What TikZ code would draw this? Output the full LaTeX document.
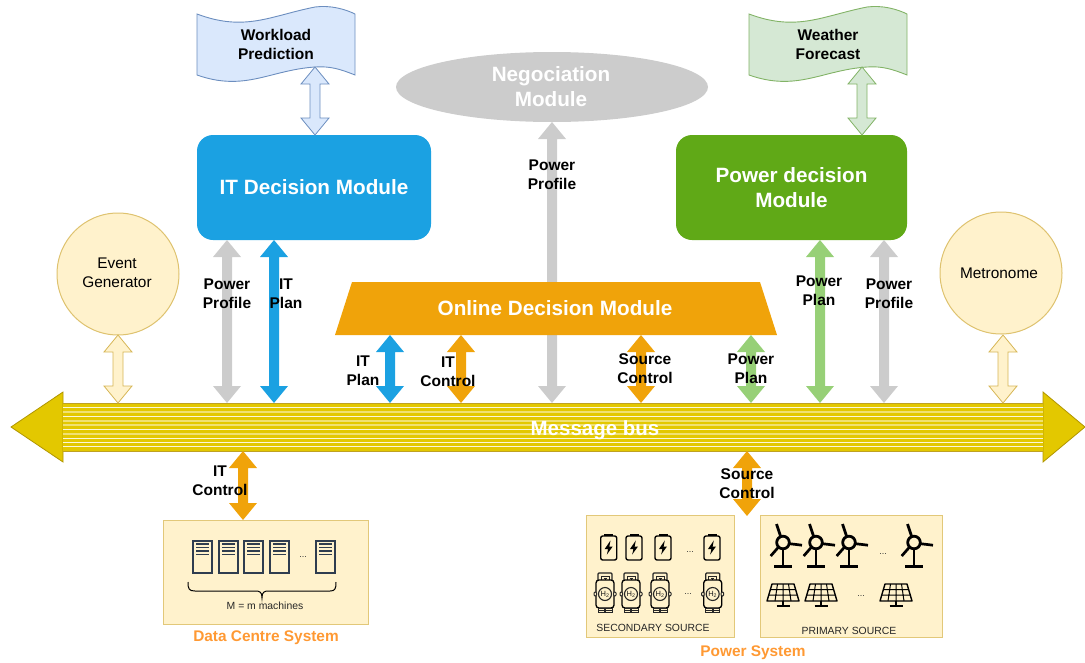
\documentclass[tikz,border=0pt]{standalone}
\usepackage{fontspec}
\setmainfont{Liberation Sans}
\usetikzlibrary{calc,shapes.geometric}
\definecolor{itblue}{HTML}{1BA1E2}
\definecolor{pgreen}{HTML}{60A917}
\definecolor{amber}{HTML}{F0A30A}
\definecolor{lgray}{HTML}{CCCCCC}
\definecolor{lgreen}{HTML}{97D077}
\definecolor{cream}{HTML}{FFF2CC}
\definecolor{creamline}{HTML}{D6B656}
\definecolor{busy}{HTML}{E3C800}
\definecolor{busline}{HTML}{B09500}
\definecolor{sysorange}{HTML}{FF9933}
\definecolor{slate}{HTML}{2F3D4F}
\definecolor{docblue}{HTML}{DAE8FC}
\definecolor{docblueline}{HTML}{6C8EBF}
\definecolor{docgreen}{HTML}{D5E8D4}
\definecolor{docgreenline}{HTML}{82B366}
\tikzset{
  x=1pt,y=-1pt,
  lab/.style={font=\fontsize{15.5}{19}\selectfont\bfseries,align=center,inner sep=0pt,text=black},
  grayarr/.style={fill=lgray,draw=none},
  bluearr/.style={fill=itblue,draw=none},
  orangearr/.style={fill=amber,draw=none},
  greenarr/.style={fill=lgreen,draw=none},
  creamarr/.style={fill=cream,draw=creamline,line width=.8pt},
  dbluearr/.style={fill=docblue,draw=docblueline,line width=.8pt},
  dgreenarr/.style={fill=docgreen,draw=docgreenline,line width=.8pt},
  module/.style={rounded corners=16pt,text=white,font=\fontsize{20.7}{25}\selectfont\bfseries,align=center,inner sep=0pt},
  sysbox/.style={fill=cream,draw=creamline!70!cream,line width=1pt},
  systitle/.style={text=sysorange,font=\fontsize{15.4}{18}\selectfont\bfseries,inner sep=0pt},
  small/.style={inner sep=0pt,text=black!85},
  dots/.style={inner sep=0pt,text=black!80,font=\fontsize{9}{10}\selectfont},
  icon/.style={draw=black,line width=1.4pt,line join=round},
}
% double block arrow between two named points, upper one first
\newcommand\blockarrow[3]{%
  \draw[#3,line join=miter] (#1) -- ++(14,17) -- ++(-9,0) -- ($(#2)+(5,-17)$) -- ++(9,0) -- (#2)
    -- ++(-14,-17) -- ++(9,0) -- ($(#1)+(-5,17)$) -- ++(-9,0) -- cycle;}
\newcommand\serverico[1]{%
  \begin{scope}[shift={(#1,541)}]
    \draw[draw=slate,line width=1.2pt] (0,0) rectangle (19,32);
    \foreach \yy in {3,6.5,10,13.5} \draw[slate,line width=1.2pt] (3,\yy) -- (16,\yy);
  \end{scope}}
\newcommand\batico[1]{%
  \begin{scope}[shift={(#1,547)}]
    \fill[black] (-4.5,-13.5) rectangle (4.5,-11);
    \draw[icon,rounded corners=2pt] (-8,-11) rectangle (8,13);
    \fill[black] (1.8,-6.5) -- (-4,2) -- (-.6,2) -- (-1.8,7.5) -- (4,-.5) -- (.6,-.5) -- cycle;
  \end{scope}}
\newcommand\hydro[1]{%
  \begin{scope}[shift={(#1,594)}]
    \draw[black!85,line width=1.3pt,rounded corners=1pt] (-7,-14) -- (-7,-21) -- (7,-21) -- (7,-14);
    \draw[black!85,line width=1pt] (-4,-14) -- (-4,-17.5) -- (4,-17.5) -- (4,-14);
    \draw[black!85,line width=1pt] (-1.5,-16) -- (1.5,-16) (0,-16) -- (0,-14);
    \draw[icon,line width=1.3pt,fill=cream,rounded corners=3pt] (-9,-14) rectangle (9,14);
    \draw[black!85,line width=1pt,fill=cream,rounded corners=1pt] (-11,-2) rectangle (-8.5,2) (8.5,-2) rectangle (11,2);
    \draw[black!85,line width=1.1pt,fill=cream] (0,0) circle (6.5);
    \node[inner sep=0pt,text=black!90] at (0,0.1) {\fontsize{7.5}{8}\selectfont H\textsubscript{2}};
    \draw[black!85,line width=1pt] (-7,14.5) rectangle (-.7,18) (.7,14.5) rectangle (7,18);
    \draw[black!85,line width=.8pt] (-7,16.2) -- (7,16.2);
  \end{scope}}
\newcommand\turbine[1]{%
  \begin{scope}[shift={(#1,542.5)}]
    \draw[black,line width=2.7pt] (-2,-5) -- (-6.5,-18.5) (5,1) -- (19,2.7) (-4,4) -- (-12.3,13.5);
    \draw[black,line width=2.7pt] (0,6) -- (0,24);
    \draw[black,line width=2.8pt] (-8.8,24) -- (8.8,24);
    \draw[black,line width=2.8pt,fill=cream] (0,0) circle (6.3);
  \end{scope}}
\newcommand\solar[1]{%
  \begin{scope}[shift={(#1,584)}]
    \draw[black,line width=1.4pt,line join=round] (-11,0) -- (11,0) -- (16,17) -- (-16,17) -- cycle;
    \draw[black,line width=1pt] (-12.5,5.5) -- (12.5,5.5) (-14.2,11) -- (14.2,11)
      (-5.5,0) -- (-8,17) (0,0) -- (0,17) (5.5,0) -- (8,17);
    \draw[black,line width=2.6pt] (0,17) -- (0,22);
    \draw[black,line width=2.2pt] (-6.5,22) -- (6.5,22);
  \end{scope}}
\begin{document}
\begin{tikzpicture}
\useasboundingbox (0,0) rectangle (1085,662);
% anchor points
\coordinate (wlb) at (315,67);  \coordinate (itwl) at (315,135);
\coordinate (wfb) at (862,67);  \coordinate (pwf) at (862,135);
\coordinate (negb) at (552,122); \coordinate (negbus) at (552,403);
\coordinate (itpp) at (227,240); \coordinate (buspp) at (227,403);
\coordinate (itpl) at (274,240); \coordinate (buspl) at (274,403);
\coordinate (odit) at (390,335); \coordinate (busodit) at (390,403);
\coordinate (odct) at (461,335); \coordinate (busodct) at (461,403);
\coordinate (odsc) at (641,335); \coordinate (busodsc) at (641,403);
\coordinate (odpp) at (751,335); \coordinate (busodpp) at (751,403);
\coordinate (pdpl) at (820,240); \coordinate (buspdpl) at (820,403);
\coordinate (pdpp) at (884,240); \coordinate (buspdpp) at (884,403);
\coordinate (evs) at (118,335); \coordinate (busev) at (118,403);
\coordinate (mes) at (1003,335); \coordinate (busme) at (1003,403);
\coordinate (busdc) at (243,451); \coordinate (dctop) at (243,520);
\coordinate (busps) at (747,451); \coordinate (pstop) at (747,516);

% bus
\fill[busy,draw=busline,line width=.8pt] (11,427) -- (63,392) -- (63,462) -- cycle;
\fill[busy,draw=busline,line width=.8pt] (1085,427) -- (1043,392) -- (1043,462) -- cycle;
\fill[busy] (63,403) rectangle (1043,451);
\foreach \yy in {407.5,416.5,429.5,438.5,442.5,446.5}
  \draw[white!85!busy,line width=.9pt] (63,\yy) -- (1043,\yy);
\foreach \yy in {412,421,425,434}
  \draw[white!45!busy,line width=1.6pt] (63,\yy) -- (1043,\yy);
\draw[busline!60!creamline,line width=1pt] (63,403) -- (1043,403) (63,451) -- (1043,451);
\node[inner sep=0pt,text=white,font=\fontsize{20.5}{24}\selectfont\bfseries] (bus) at (595,430) {Message bus};

% modules
\node[ellipse,fill=lgray,minimum width=312pt,minimum height=70pt,inner sep=0pt] (negshape) at (552,87) {};
\blockarrow{negb}{negbus}{grayarr}
\node[module] (neg) at (551,87) {Negociation\\Module};
\node[module,fill=itblue,minimum width=234pt,minimum height=105pt] (itd) at (314,187.5) {IT Decision Module};
\node[module,fill=pgreen,minimum width=231pt,minimum height=105pt] (pwd) at (791.5,187.5) {Power decision\\Module};
\fill[amber] (352,282) -- (760,282) -- (777,335) -- (335,335) -- cycle;
\node[module,rounded corners=0pt] (odm) at (555,308) {Online Decision Module};

% circles
\draw[fill=cream,draw=creamline!80!cream,line width=1pt] (118,274) circle (61);
\node[inner sep=0pt,align=center,font=\fontsize{15.4}{19}\selectfont] (evg) at (117,273) {Event\\Generator};
\draw[fill=cream,draw=creamline!80!cream,line width=1pt] (1001,273) circle (61);
\node[inner sep=0pt,font=\fontsize{15.4}{19}\selectfont] (met) at (999,273) {Metronome};

% documents
\draw[fill=docblue,draw=docblueline,line width=.9pt]
  (197,14) .. controls (245,32) and (270,16) .. (315,7) .. controls (330,5) and (345,9) .. (355,14)
  -- (355,75) .. controls (340,69) and (330,66) .. (315,67) .. controls (270,70) and (245,92) .. (197,75) -- cycle;
\node[lab] (wl) at (276,44) {Workload\\Prediction};
\draw[fill=docgreen,draw=docgreenline,line width=.9pt]
  (749,14) .. controls (797,32) and (822,16) .. (867,7) .. controls (882,5) and (897,9) .. (907,14)
  -- (907,75) .. controls (892,69) and (882,66) .. (867,67) .. controls (822,70) and (797,92) .. (749,75) -- cycle;
\node[lab] (wf) at (828,44) {Weather\\Forecast};

% arrows
\blockarrow{wlb}{itwl}{dbluearr}
\blockarrow{wfb}{pwf}{dgreenarr}
\blockarrow{itpp}{buspp}{grayarr}
\blockarrow{itpl}{buspl}{bluearr}
\blockarrow{odit}{busodit}{bluearr}
\blockarrow{odct}{busodct}{orangearr}
\blockarrow{odsc}{busodsc}{orangearr}
\blockarrow{odpp}{busodpp}{greenarr}
\blockarrow{pdpl}{buspdpl}{greenarr}
\blockarrow{pdpp}{buspdpp}{grayarr}
\blockarrow{evs}{busev}{creamarr}
\blockarrow{mes}{busme}{creamarr}
\blockarrow{busdc}{dctop}{orangearr}
\blockarrow{busps}{pstop}{orangearr}

% labels
\node[lab] (l1) at (552,175) {Power\\Profile};
\node[lab] (l2) at (227,294) {Power\\Profile};
\node[lab] (l3) at (286,294) {IT\\Plan};
\node[lab] (l4) at (363,371) {IT\\Plan};
\node[lab] (l5) at (448,372) {IT\\Control};
\node[lab] (l6) at (645,369) {Source\\Control};
\node[lab] (l7) at (751,369) {Power\\Plan};
\node[lab] (l8) at (819,291) {Power\\Plan};
\node[lab] (l9) at (889,293.5) {Power\\Profile};
\node[lab] (l10) at (220,480.5) {IT\\Control};
\node[lab] (l11) at (747,484) {Source\\Control};

% data centre
\draw[sysbox] (163,520) rectangle (368,624);
\foreach \xx in {193,219,244,270,316} {\serverico{\xx}}
\node[dots] (d1) at (303,557) {...};
\draw[black,line width=1pt] (188,582) .. controls (188,589) and (189,591) .. (195,591) -- (255,591)
  .. controls (260,591) and (262,592) .. (262,598) .. controls (262,592) and (264,591) .. (269,591)
  -- (330,591) .. controls (335,591) and (336,589) .. (336,582);
\node[small,font=\fontsize{10.4}{12}\selectfont] (mm) at (265,605.5) {M = m machines};
\node[systitle] (dcs) at (266,638) {Data Centre System};

% power system
\draw[sysbox] (586,515) rectangle (734,637);
\draw[sysbox] (760,515) rectangle (942,637);
\foreach \xx in {608.7,634,663,712} {\batico{\xx}}
\foreach \xx in {605,631,660,712.7} {\hydro{\xx}}
\node[dots] (d2) at (690,552) {...};
\node[dots] (d3) at (688,594) {...};
\foreach \xx in {783,816,849,914} {\turbine{\xx}}
\foreach \xx in {783,821,896} {\solar{\xx}}
\node[dots] (d4) at (883,554) {...};
\node[dots] (d5) at (861,596) {...};
\node[small,font=\fontsize{10.4}{12}\selectfont] (sec) at (653,628) {SECONDARY SOURCE};
\node[small,font=\fontsize{10.4}{12}\selectfont] (pri) at (849,631) {PRIMARY SOURCE};
\node[systitle] (pws) at (753,653) {Power System};
\end{tikzpicture}
\end{document}
